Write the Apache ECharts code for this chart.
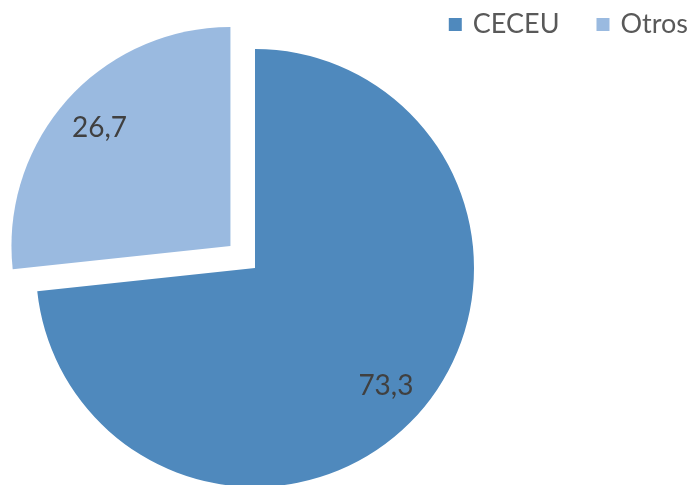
<!DOCTYPE html>
<html>
<head>
<meta charset="utf-8">
<script src="https://cdn.jsdelivr.net/npm/echarts@6/dist/echarts.min.js"></script>
<style>
  html, body { margin: 0; padding: 0; background: #fff; }
  #chart { width: 698px; height: 485px; }
</style>
</head>
<body>
<div id="chart"></div>
<script>
const categories = ['CECEU', 'Otros']
const values = [73.3, 26.7]
const colors = ['#4F89BD', '#9ABAE0']
const exploded = [false, true]

const chart = echarts.init(document.getElementById('chart'))

const pieData = categories.map((name, i) => ({
  name: name,
  value: values[i],
  selected: exploded[i],
  itemStyle: { color: colors[i] }
}))

const baseFont = 'Lato, "Open Sans", sans-serif'

chart.setOption({
  animation: false,
  legend: {
    data: categories,
    right: 5,
    top: 6,
    icon: 'rect',
    itemWidth: 13,
    itemHeight: 13,
    itemGap: 37,
    textStyle: {
      fontFamily: baseFont,
      fontSize: 27,
      color: '#595959',
      padding: [0, 0, 0, 6]
    }
  },
  series: [
    {
      name: 'pie',
      type: 'pie',
      center: [255, 268],
      radius: [0, 219],
      startAngle: 90,
      clockwise: true,
      selectedMode: 'single',
      selectedOffset: 33,
      select: { itemStyle: { borderWidth: 0 } },
      label: { show: false },
      labelLine: { show: false },
      emphasis: { disabled: true },
      data: pieData
    },
    {
      // invisible ring used only to place the labels further out
      name: 'labels',
      type: 'pie',
      silent: true,
      center: [255, 268],
      radius: [127, 219],
      startAngle: 90,
      clockwise: true,
      selectedMode: 'single',
      selectedOffset: 33,
      itemStyle: { color: 'rgba(0,0,0,0)' },
      select: { itemStyle: { color: 'rgba(0,0,0,0)' } },
      label: {
        show: true,
        position: 'inside',
        formatter: (p) => p.value.toFixed(1).replace('.', ','),
        fontFamily: baseFont,
        fontSize: 28,
        color: '#404040'
      },
      labelLine: { show: false },
      emphasis: { disabled: true },
      data: categories.map((name, i) => ({
        name: name,
        value: values[i],
        selected: exploded[i]
      }))
    }
  ]
})
</script>
</body>
</html>
